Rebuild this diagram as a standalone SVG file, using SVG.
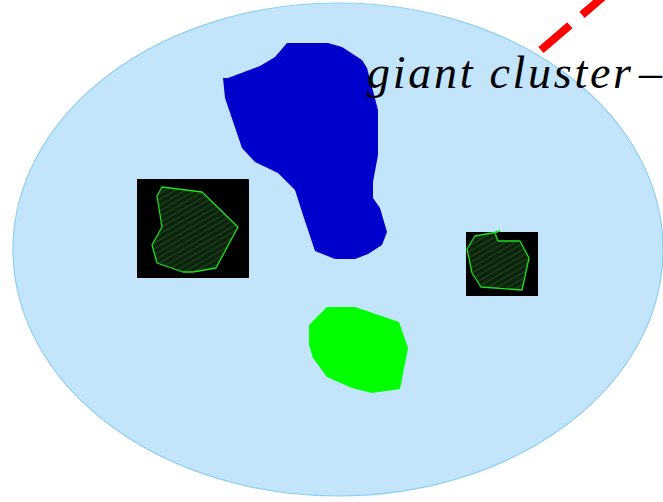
<svg xmlns="http://www.w3.org/2000/svg" width="663" height="502" viewBox="0 0 663 502">
  <style>
    .cluster-bg { fill: #c3e5fc; stroke: #8ecff4; stroke-width: 1.2; }
    .frame { fill: #000000; }
    .patch { fill: url(#hatch); stroke: #1be01b; stroke-width: 1.3; stroke-linejoin: round; }
    .label { font-family: "Liberation Serif", "Times New Roman", serif; font-style: italic; font-size: 46px; fill: #000000; }
    .pointer { fill: none; stroke: #ff0000; stroke-width: 8; stroke-dasharray: 38 16; stroke-linecap: butt; }
  </style>
  <defs>
    <pattern id="hatch" width="5" height="5" patternUnits="userSpaceOnUse" patternTransform="rotate(-30)">
      <rect width="5" height="5" fill="#0c220c"/>
      <line x1="0" y1="2.5" x2="5" y2="2.5" stroke="#1d461d" stroke-width="1.2"/>
    </pattern>
  </defs>

  <!-- large background cluster -->
  <g id="cluster-region">
    <ellipse class="cluster-bg" cx="338" cy="249.5" rx="325" ry="246.5"/>
  </g>

  <!-- giant cluster (blue) -->
  <g id="giant-cluster">
    <polygon fill="#0000cc" points="223,78 228,78 260,66 275,57 287,43 328,43 342,47 362,60 367,68 378,110 378,155 373,182 373,198 380,208 387,232 382,245 368,254 355,259 335,259 315,251 303,215 295,190 278,173 255,162 242,148 225,98"/>
  </g>

  <!-- small cluster (green) -->
  <g id="small-cluster">
    <polygon fill="#00ff00" points="327,307 355,307 399,322 408,348 400,389 372,393 352,388 327,377 313,358 309,345 309,325"/>
  </g>

  <!-- left inset -->
  <g id="inset-left">
    <rect class="frame" x="137" y="179" width="112" height="99"/>
    <polygon class="patch" points="162,187 202,192 238,227 216,268 193,272 183,272 157,263 152,245 162,227 157,196"/>
  </g>

  <!-- right inset -->
  <g id="inset-right">
    <rect class="frame" x="466" y="232" width="72" height="64"/>
    <polygon class="patch" points="467,249 475,236 492,233 500,231 495,233 498,241 520,241 529,258 522,290 481,287 472,273"/>
  </g>

  <!-- label and pointer -->
  <g id="connectors">
    <line class="pointer" x1="541" y1="50" x2="625" y2="-22"/>
  </g>
  <g id="label">
    <text class="label" x="367" y="88" textLength="264" lengthAdjust="spacing">giant cluster</text>
    <text class="label" x="639" y="88">–</text>
  </g>
</svg>
